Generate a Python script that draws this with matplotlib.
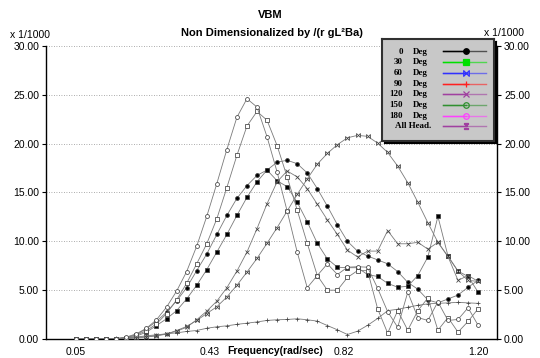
import numpy as np
import matplotlib
matplotlib.use("Agg")
import matplotlib.pyplot as plt
from matplotlib.path import Path

plt.rcParams['font.family'] = ['Liberation Sans', 'DejaVu Sans']

# frequency grid (rad/sec)
freq = [0.05, 0.07875, 0.1075, 0.13625, 0.165, 0.19375, 0.2225, 0.25125, 0.28, 0.30875,
        0.3375, 0.36625, 0.395, 0.42375, 0.4525, 0.48125, 0.51, 0.53875, 0.5675, 0.59625,
        0.625, 0.65375, 0.6825, 0.71125, 0.74, 0.76875, 0.7975, 0.82625, 0.855, 0.88375,
        0.9125, 0.94125, 0.97, 0.99875, 1.0275, 1.05625, 1.085, 1.11375, 1.1425, 1.17125, 1.2]

# VBM x 1/1000 for each heading
deg0 = [0, 0, 0, 0.01, 0.03, 0.15, 0.45, 1.05, 1.8, 2.75, 3.9, 5.25, 7.0, 8.7, 10.7,
        12.65, 14.4, 15.7, 16.75, 17.3, 18.1, 18.3, 17.95, 17.0, 15.4, 13.6, 11.7, 10.0,
        9.0, 8.5, 8.1, 7.7, 6.9, 5.8, 5.1, 4.0, 3.7, 4.1, 4.5, 5.3, 6.0]
deg30 = [0, 0, 0, 0.01, 0.02, 0.1, 0.3, 0.7, 1.38, 2.07, 2.9, 4.1, 5.5, 7.1, 8.9,
         10.7, 12.65, 14.5, 16.1, 17.3, 16.2, 15.6, 14.0, 12.0, 9.8, 8.2, 7.35, 7.3,
         7.3, 6.6, 6.4, 5.7, 5.3, 5.4, 6.5, 8.4, 12.55, 8.5, 6.95, 6.4, 4.8]
deg60 = [0, 0, 0, 0, 0.01, 0.04, 0.1, 0.2, 0.32, 0.5, 0.87, 1.28, 1.9, 2.6, 3.3,
         4.3, 5.5, 6.85, 8.25, 9.8, 11.4, 13.1, 14.8, 16.4, 17.9, 19.0, 19.9, 20.6,
         20.85, 20.75, 20.06, 19.1, 17.7, 16.0, 14.0, 11.9, 9.9, 8.45, 6.95, 6.0, 5.9]
deg90 = [0, 0.01, 0.02, 0.04, 0.07, 0.12, 0.2, 0.33, 0.43, 0.53, 0.63, 0.77, 0.87, 1.1, 1.25,
         1.35, 1.5, 1.62, 1.75, 1.9, 1.97, 2.0, 2.07, 1.97, 1.83, 1.38, 0.94, 0.46,
         0.8, 1.4, 2.1, 2.9, 3.05, 3.25, 3.45, 3.6, 3.65, 3.7, 3.75, 3.7, 3.65]
deg120 = [0, 0, 0, 0, 0.01, 0.05, 0.15, 0.25, 0.36, 0.53, 0.8, 1.2, 1.97, 2.85, 3.87,
          5.25, 6.95, 8.9, 11.3, 13.85, 16.1, 17.2, 16.6, 15.4, 13.8, 12.2, 10.7, 9.1,
          8.4, 9.0, 9.0, 11.1, 9.75, 9.75, 9.9, 9.2, 9.9, 8.45, 6.0, 6.5, 5.9]
deg150 = [0, 0, 0, 0.01, 0.02, 0.15, 0.4, 0.85, 1.55, 2.6, 4.0, 5.7, 7.7, 9.75, 12.3,
          15.5, 18.8, 21.8, 23.3, 22.4, 19.8, 16.6, 13.2, 9.8, 6.5, 5.0, 5.0, 6.3,
          7.0, 7.0, 3.1, 0.6, 2.9, 0.9, 2.9, 4.2, 0.9, 2.2, 0.7, 1.8, 3.1]
deg180 = [0, 0, 0, 0.01, 0.02, 0.2, 0.53, 1.1, 1.97, 3.26, 4.9, 6.9, 9.5, 12.55, 15.9,
          19.4, 22.7, 24.6, 23.75, 20.7, 17.1, 13.1, 8.9, 5.25, 6.5, 7.7, 6.6, 7.35,
          7.4, 7.35, 5.2, 2.8, 1.2, 4.8, 2.2, 1.9, 3.8, 1.9, 2.0, 3.2, 1.4]

legend_labels = ['0', '30', '60', '90', '120', '150', '180']
legend_colors = ['#000000', '#00e000', '#3030ff', '#ff2020', '#a040a0', '#309030', '#ff40ff', '#a040a0']

xtick_vals = [0.05, 0.4333, 0.8167, 1.20]
xtick_labels = ['0.05', '0.43', '0.82', '1.20']
yticks = [0, 5, 10, 15, 20, 25, 30]

# bow-tie marker used for 60 deg
bowtie = Path([(-1, -1), (1, 1), (1, -1), (-1, 1), (-1, -1)],
              [Path.MOVETO, Path.LINETO, Path.LINETO, Path.LINETO, Path.CLOSEPOLY])

series = [
    (deg0, 'o', 'black'),
    (deg30, 's', 'black'),
    (deg60, bowtie, 'white'),
    (deg90, '+', 'black'),
    (deg120, 'x', 'black'),
    (deg150, 's', 'white'),
    (deg180, 'o', 'white'),
]
legend_markers = ['o', 's', bowtie, '+', 'x', 'o', 'o', '$\\Xi$']
legend_fill = ['black', '#00e000', 'none', 'none', 'none', 'none', 'none', 'none']

fig = plt.figure(figsize=(5.4, 3.58), dpi=100)
W, H = 540.0, 358.0
ax = fig.add_axes([46 / W, 1 - 339 / H, (497 - 46) / W, (339 - 46) / H])

for y in yticks[1:]:
    ax.axhline(y, color='#909090', lw=0.6, ls=(0, (1, 2)), zorder=1)

for vals, mk, fc in series:
    ax.plot(freq, vals, color='#7a7a7a', lw=0.6, marker=mk, markersize=2.8,
            markerfacecolor=fc, markeredgecolor='#404040', markeredgewidth=0.55, zorder=3)

ax.set_xlim(-0.036, 1.254)
ax.set_ylim(0, 30)
ax.set_yticks(yticks)
ax.set_yticklabels(['%.2f' % v for v in yticks])
ax.set_xticks(xtick_vals)
ax.set_xticklabels(xtick_labels)
ax.tick_params(axis='x', length=0, pad=6, labelsize=7.5)
ax.tick_params(axis='y', length=3, width=0.8, pad=2, labelsize=7.5,
               right=True, labelright=True, direction='out')
ax.spines['top'].set_visible(False)
for s in ['left', 'right', 'bottom']:
    ax.spines[s].set_linewidth(1.0)
ax.set_facecolor('white')

fig.text(270 / W, 1 - 15 / H, 'VBM', ha='center', va='center', fontsize=8, fontweight='bold')
fig.text(272 / W, 1 - 33 / H, 'Non Dimensionalized by /(r gL\u00b2Ba)', ha='center', va='center',
         fontsize=8, fontweight='bold')
fig.text(10 / W, 1 - 35 / H, 'x 1/1000', ha='left', va='center', fontsize=7.5)
fig.text(484 / W, 1 - 33 / H, 'x 1/1000', ha='left', va='center', fontsize=7.5, zorder=10)
fig.text(275 / W, 1 - 351 / H, 'Frequency(rad/sec)', ha='center', va='center', fontsize=7.5,
         fontweight='bold')

# legend box drawn in pixel coords
lx0, lx1, ly0, ly1 = 382, 494, 39, 141
shadow = fig.add_axes([(lx0 + 2) / W, 1 - (ly1 + 2) / H, (lx1 - lx0) / W, (ly1 - ly0) / H])
shadow.set_facecolor('black')
shadow.set_xticks([])
shadow.set_yticks([])
leg = fig.add_axes([lx0 / W, 1 - ly1 / H, (lx1 - lx0) / W, (ly1 - ly0) / H])
leg.set_facecolor('#c8c8c8')
leg.set_xlim(lx0, lx1)
leg.set_ylim(ly1, ly0)
leg.set_xticks([])
leg.set_yticks([])
for s in leg.spines.values():
    s.set_linewidth(1.5)
    s.set_color('#303030')

rows = [51.5 + 10.7 * k for k in range(8)]
for k, ry in enumerate(rows):
    c = legend_colors[k]
    if k < 7:
        leg.text(403, ry, legend_labels[k], ha='right', va='center', fontsize=6.5,
                 fontweight='bold', family='Liberation Serif')
        leg.text(413, ry, 'Deg', ha='left', va='center', fontsize=6.5,
                 fontweight='bold', family='Liberation Serif')
    else:
        leg.text(413, ry, 'All Head.', ha='center', va='center', fontsize=6.5,
                 fontweight='bold', family='Liberation Serif')
    leg.plot([443, 486], [ry, ry], color=c, lw=1.0, alpha=0.6)
    leg.plot([443, 466], [ry, ry], color=c, lw=1.0)
    leg.plot([466], [ry], marker=legend_markers[k], color=c, markersize=4,
             markerfacecolor=legend_fill[k], markeredgecolor=c, markeredgewidth=0.9)

fig.savefig('out.png', dpi=100, facecolor='white')
